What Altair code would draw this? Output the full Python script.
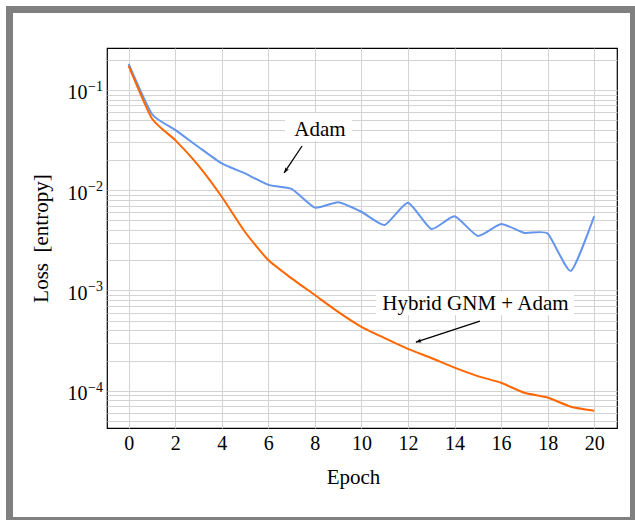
import altair as alt
import pandas as pd

# ---------------- data ----------------
epochs = list(range(21))
adam_loss = [0.182, 0.0576, 0.040, 0.027, 0.0185, 0.0147, 0.0113, 0.0103, 0.0067, 0.0076,
             0.0061, 0.0045, 0.0075, 0.0041, 0.0055, 0.0035, 0.0046, 0.00375, 0.0037, 0.00157,
             0.0055]
hybrid_loss = [0.174, 0.052, 0.0316, 0.0176, 0.0086, 0.00383, 0.00201, 0.00132, 0.00090, 0.000612,
               0.000434, 0.000335, 0.000262, 0.000212, 0.00017, 0.00014, 0.00012, 0.0000955,
               0.0000857, 0.0000692, 0.0000631]
series_names = ["Adam", "Hybrid GNM + Adam"]
series_colors = ["#6495ED", "#FF6600"]

x_ticks = list(range(0, 21, 2))
y_major = [1e-4, 1e-3, 1e-2, 1e-1]
y_major_base = ["10", "10", "10", "10"]
y_major_exp = ["\u22124", "\u22123", "\u22122", "\u22121"]
y_minor = [m * d for d in [1e-5, 1e-4, 1e-3, 1e-2, 1e-1] for m in range(2, 10)]

# annotations (data coordinates)
ann_text = ["Adam", "Hybrid GNM + Adam"]
ann_text_x = [8.22, 14.90]
ann_text_y = [0.0348, 0.000637]
ann_box_x = [6.72, 10.63]
ann_box_x2 = [9.60, 19.13]
ann_box_y = [0.0589, 0.00098]
ann_box_y2 = [0.0310, 0.000565]
arrow_from_x = [7.45, 15.09]
arrow_from_y = [0.0276, 0.000494]
arrow_to_x = [6.68, 12.34]
arrow_to_y = [0.01486, 0.000305]
arrow_angle = [213.7, 251.6]

# ---------------- tables ----------------
lines_df = pd.DataFrame({
    "x": epochs * 2,
    "y": adam_loss + hybrid_loss,
    "series": [series_names[0]] * len(epochs) + [series_names[1]] * len(epochs),
})
ann_df = pd.DataFrame({
    "text": ann_text, "x": ann_text_x, "y": ann_text_y,
    "bx": ann_box_x, "bx2": ann_box_x2, "by": ann_box_y, "by2": ann_box_y2,
    "ax": arrow_from_x, "ay": arrow_from_y, "tx": arrow_to_x, "ty": arrow_to_y,
    "ang": arrow_angle,
})
exp_df = pd.DataFrame({"v": y_major, "e": y_major_exp})

FONT = "Liberation Serif"
x_scale = alt.Scale(domain=[-0.93, 20.98], nice=False, zero=False)
y_scale = alt.Scale(type="log", domain=[4.25e-5, 0.262], nice=False)

label_expr = " : ".join(
    f"datum.value == {v!r} ? '{t}'" for v, t in zip(y_major, y_major_base)
) + " : ''"

x_axis = alt.Axis(
    values=x_ticks, grid=True, gridColor="#d3d3d3", gridWidth=1,
    ticks=False, domain=False, labelFont=FONT, labelFontSize=20, labelColor="black",
    labelBaseline="alphabetic", labelPadding=21, labelOverlap=False, labelFlush=False,
    titleFont=FONT, titleFontSize=21, titleFontWeight="normal", titleColor="black",
    titleBaseline="alphabetic", titleY=55, titleX=246, titleAlign="center",
)
y_axis = alt.Axis(
    values=y_minor + y_major, labelExpr=label_expr, grid=True, gridColor="#d3d3d3",
    gridWidth=1, ticks=False, domain=False, labelFont=FONT, labelFontSize=20,
    labelColor="black", labelBaseline="alphabetic", labelOffset=9, labelPadding=20,
    labelOverlap=False, labelFlush=False,
    titleFont=FONT, titleFontSize=21, titleFontWeight="normal", titleColor="black",
    titleBaseline="alphabetic", titleAngle=270, titleX=-60, titleY=190, titleAlign="center",
)


def X(field):
    return alt.X(f"{field}:Q", scale=x_scale, axis=x_axis, title="Epoch")


def Y(field):
    return alt.Y(f"{field}:Q", scale=y_scale, axis=y_axis, title="Loss\u00a0 [entropy]")


lines = alt.Chart(lines_df).mark_line(strokeWidth=2, interpolate="cardinal", tension=0.45).encode(
    x=X("x"), y=Y("y"),
    color=alt.Color("series:N", scale=alt.Scale(domain=series_names, range=series_colors),
                    legend=None),
    detail="series:N",
)

boxes = alt.Chart(ann_df).mark_rect(fill="white", stroke=None).encode(
    x=X("bx"), x2="bx2", y=Y("by"), y2="by2",
)

texts = alt.Chart(ann_df).mark_text(
    font=FONT, fontSize=21, color="black", baseline="alphabetic", align="center"
).encode(x=X("x"), y=Y("y"), text="text:N")

arrows = alt.Chart(ann_df).mark_rule(color="black", strokeWidth=1.3).encode(
    x=X("ax"), x2="tx", y=Y("ay"), y2="ty",
)

heads = alt.Chart(ann_df).mark_point(
    shape="M0,0L-0.38,1L0,0.8L0.38,1Z", filled=True, color="black", opacity=1, size=120,
).encode(x=X("tx"), y=Y("ty"), angle=alt.Angle("ang:Q", scale=None))

# superscript exponents of the y tick labels
exps = alt.Chart(exp_df).mark_text(
    font=FONT, fontSize=14, color="black", baseline="alphabetic", align="left", dy=1
).encode(x=alt.value(-19), y=Y("v"), text="e:N")

frame = alt.Chart(pd.DataFrame({"k": [0]})).mark_rect(
    fill="white", fillOpacity=0, stroke="#808080", strokeWidth=7
).encode(
    x=alt.value(-97.5), x2=alt.value(526.5), y=alt.value(-38.5), y2=alt.value(472.5)
)

chart = alt.layer(frame, lines, boxes, arrows, heads, texts, exps).properties(
    width=510, height=380,
    autosize=alt.AutoSizeParams(type="none"),
    padding={"left": 107, "top": 48, "right": 18, "bottom": 92},
    background="white",
).configure(font=FONT).configure_view(stroke="black", strokeWidth=1.2)

chart.save("out.html", embed_options={"renderer": "svg", "actions": False})
